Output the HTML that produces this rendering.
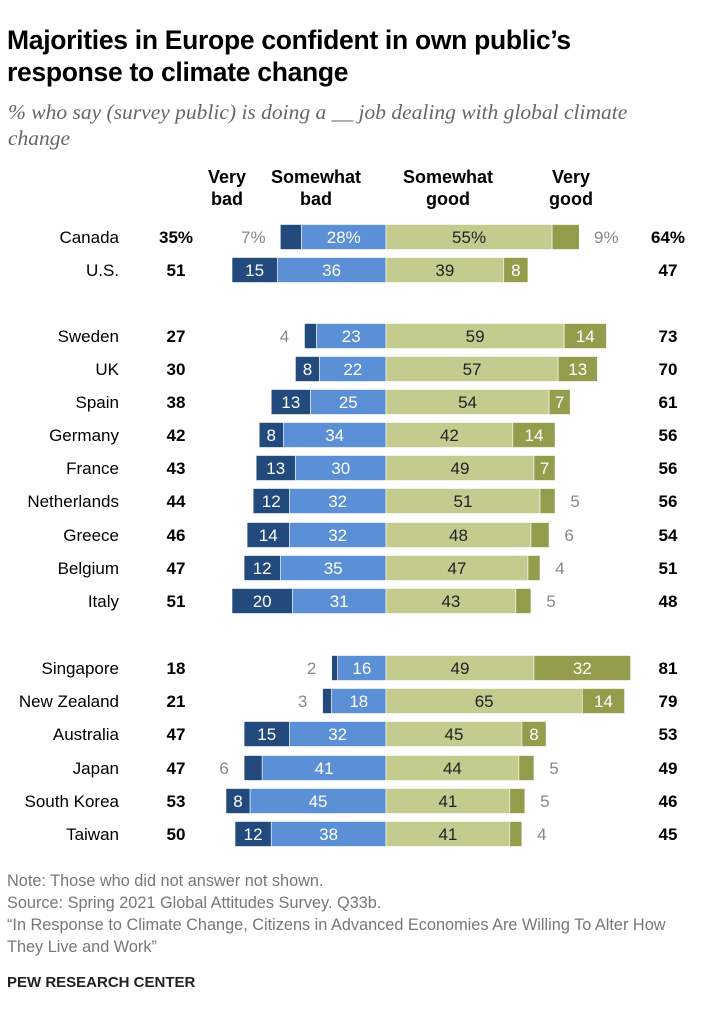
<!DOCTYPE html>
<html><head><meta charset="utf-8">
<style>
body{margin:0;background:#fff;font-family:"Liberation Sans",sans-serif;}
#wrap{position:relative;width:707px;height:1023px;overflow:hidden;}
.t{position:absolute;white-space:nowrap;}
</style></head>
<body><div id="wrap">
<div class="t" style="left:7px;top:24px;font-size:26.5px;font-weight:bold;line-height:32px;color:#000;letter-spacing:-0.3px;">Majorities in Europe confident in own public’s<br>response to climate change</div>
<div class="t" style="left:8px;top:99px;font-size:21.5px;font-style:italic;color:#666;line-height:26px;font-family:'Liberation Serif',serif;">% who say (survey public) is doing a __ job dealing with global climate<br>change</div>
<svg id="svg" width="707" height="1023" style="position:absolute;left:0;top:0"></svg>
<div class="t" style="left:7px;top:870px;font-size:16.3px;color:#777;line-height:22px;">Note: Those who did not answer not shown.<br>Source: Spring 2021 Global Attitudes Survey. Q33b.<br>“In Response to Climate Change, Citizens in Advanced Economies Are Willing To Alter How<br>They Live and Work”</div>
<div class="t" style="left:7px;top:974px;font-size:15px;font-weight:bold;color:#222;">PEW RESEARCH CENTER</div>
</div>
<script>
const countries=["Canada","U.S.","Sweden","UK","Spain","Germany","France","Netherlands","Greece","Belgium","Italy","Singapore","New Zealand","Australia","Japan","South Korea","Taiwan"];
const veryBad=[7,15,4,8,13,8,13,12,14,12,20,2,3,15,6,8,12];
const somewhatBad=[28,36,23,22,25,34,30,32,32,35,31,16,18,32,41,45,38];
const somewhatGood=[55,39,59,57,54,42,49,51,48,47,43,49,65,45,44,41,41];
const veryGood=[9,8,14,13,7,14,7,5,6,4,5,32,14,8,5,5,4];
const totalBad=[35,51,27,30,38,42,43,44,46,47,51,18,21,47,47,53,50];
const totalGood=[64,47,73,70,61,56,56,56,54,51,48,81,79,53,49,46,45];
const rowY=[237,270,336,369,402,435,468,501,535,568,601,668,701,734,768,801,834];
const svg=document.getElementById('svg');const NS='http://www.w3.org/2000/svg';
const cx=386,k=3.02,bh=25;
const x=v=>v*k;
function el(tag,attrs,txt){const e=document.createElementNS(NS,tag);for(const a in attrs)e.setAttribute(a,attrs[a]);if(txt!==undefined)e.textContent=txt;svg.appendChild(e);return e;}
function txt(xp,yp,s,opt){const e=el('text',Object.assign({x:xp,y:yp+6,'font-size':17,'font-family':'Liberation Sans, sans-serif','text-anchor':'middle'},opt||{}),s);return e;}
const heads=[[227,"Very","bad"],[316,"Somewhat","bad"],[448,"Somewhat","good"],[571,"Very","good"]];
heads.forEach(h=>{const a=txt(h[0],177,h[1],{'font-weight':'bold','font-size':18});const b=txt(h[0],199,h[2],{'font-weight':'bold','font-size':18});});
countries.forEach((c,i)=>{
 const y=rowY[i],pct=i===0?'%':'';
 const n=txt(119,y,c,{'text-anchor':'end'});
 const tb=txt(176,y,totalBad[i]+pct,{'font-weight':'bold'});
 const tg=txt(668,y,totalGood[i]+pct,{'font-weight':'bold'});
 const sb=x(somewhatBad[i]),vb=x(veryBad[i]),sg=x(somewhatGood[i]),vg=x(veryGood[i]);
 const segs=[[cx-sb-vb,vb,'#234a7c','bar-very-bad',veryBad[i],'#fff'],[cx-sb,sb,'#5b8fd6','bar-somewhat-bad',somewhatBad[i],'#fff'],[cx,sg,'#c3cb8f','bar-somewhat-good',somewhatGood[i],'#222'],[cx+sg,vg,'#939d4b','bar-very-good',veryGood[i],'#fff']];
 segs.forEach((s,j)=>{
  const r=el('rect',{x:s[0],y:y-bh/2,width:s[1],height:bh,fill:s[2],stroke:'#fff','stroke-width':0.6});
  
  
  const out=(j===0||j===3)&&(s[4]<=6||i===0);
  let tx=s[0]+s[1]/2,col=s[5];
  const off=i===0?27:20;
  if(out){col='#888';tx=j===0?s[0]-off:s[0]+s[1]+off;}
  const t=txt(tx,y,s[4]+pct,{fill:col});
  
  
 });
});
</script>
</body></html>
